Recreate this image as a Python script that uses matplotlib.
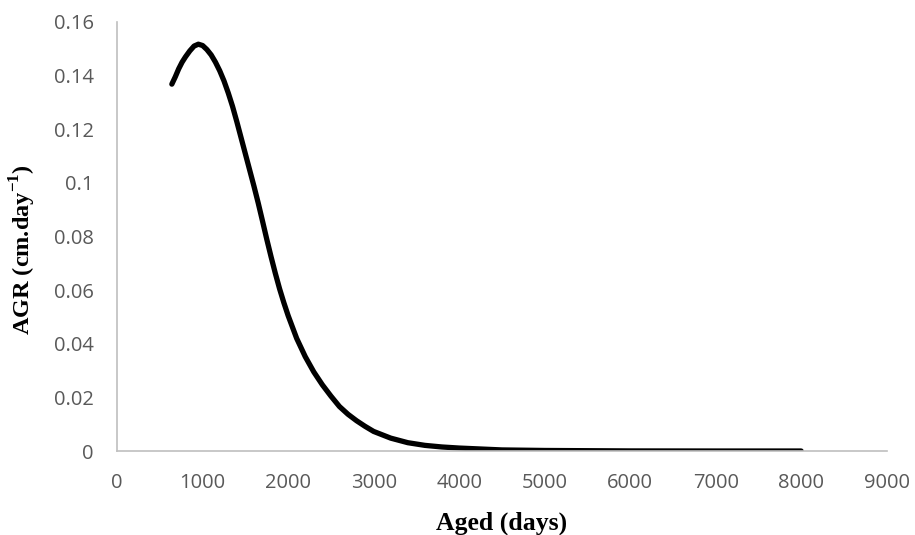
import matplotlib
matplotlib.use("Agg")
import matplotlib.pyplot as plt

plt.rcParams["mathtext.fontset"] = "custom"
plt.rcParams["mathtext.rm"] = "Liberation Serif:bold"
plt.rcParams["mathtext.bf"] = "Liberation Serif:bold"

# values
age_days = [640, 680, 720, 760, 800, 850, 900, 950, 1000, 1050, 1100, 1150,
            1200, 1250, 1300, 1350, 1400, 1450, 1500, 1550, 1600, 1650, 1700,
            1750, 1800, 1850, 1900, 1950, 2000, 2100, 2200, 2300, 2400, 2500,
            2600, 2700, 2800, 2900, 3000, 3200, 3400, 3600, 3800, 4000, 4500,
            5000, 6000, 7000, 8000]
agr = [0.1368, 0.1395, 0.1425, 0.1450, 0.1470, 0.1492, 0.1510, 0.1517, 0.1512,
       0.1497, 0.1477, 0.1450, 0.1418, 0.1380, 0.1335, 0.1285, 0.1228, 0.1168,
       0.1108, 0.1048, 0.0988, 0.0925, 0.0858, 0.0790, 0.0725, 0.0663, 0.0605,
       0.0553, 0.0505, 0.0420, 0.0352, 0.0295, 0.0247, 0.0205, 0.0166, 0.0137,
       0.0113, 0.0092, 0.0073, 0.0048, 0.0031, 0.0021, 0.0015, 0.0011, 0.0004,
       0.0002, 0.00003, 0.0, 0.0]

xticks = [0, 1000, 2000, 3000, 4000, 5000, 6000, 7000, 8000, 9000]
yticks = [0, 0.02, 0.04, 0.06, 0.08, 0.1, 0.12, 0.14, 0.16]
ytick_labels = ["0", "0.02", "0.04", "0.06", "0.08", "0.1", "0.12", "0.14", "0.16"]

fig = plt.figure(figsize=(9.15, 5.35), dpi=100)
ax = fig.add_axes([0.128, 0.157, 0.841, 0.802])

ax.plot(age_days, agr, color="black", lw=3.8, solid_capstyle="round",
        solid_joinstyle="round")

ax.set_xlim(0, 9000)
ax.set_ylim(0, 0.16)
ax.set_xticks(xticks)
ax.set_yticks(yticks)
ax.set_yticklabels(ytick_labels)

for s in ["top", "right"]:
    ax.spines[s].set_visible(False)
for s in ["left", "bottom"]:
    ax.spines[s].set_color("#bfbfbf")
    ax.spines[s].set_linewidth(1.2)

ax.tick_params(length=0, labelsize=14.5, labelcolor="#595959")
ax.tick_params(axis="y", pad=17)
ax.tick_params(axis="x", pad=16)
for lab in ax.get_xticklabels() + ax.get_yticklabels():
    lab.set_family("Open Sans")

ax.set_xlabel("Aged (days)", family="Liberation Serif", fontweight="bold",
              fontsize=18.5)
ax.xaxis.set_label_coords(0.5, -0.142)
ax.set_ylabel("AGR (cm.day$^{-1}$)", family="Liberation Serif",
              fontweight="bold", fontsize=17.5)
ax.yaxis.set_label_coords(-0.103, 0.47)

fig.savefig("out.png", dpi=100)
